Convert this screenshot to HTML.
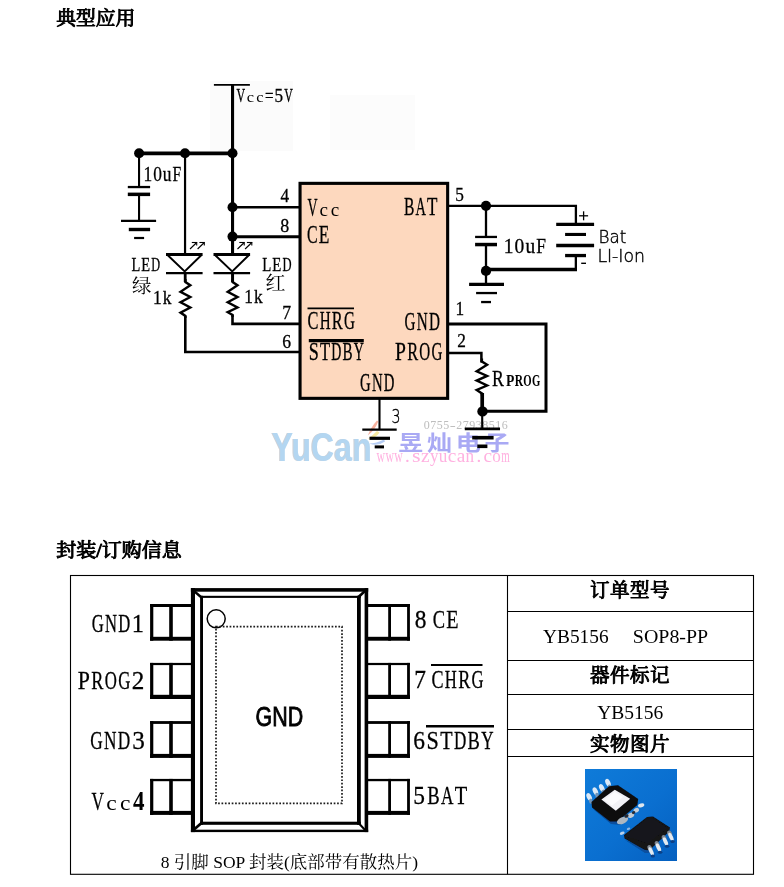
<!DOCTYPE html>
<html lang="zh-CN">
<head>
<meta charset="utf-8">
<title>YB5156 典型应用 / 封装订购信息</title>
<style>
html,body{margin:0;padding:0;background:#fff;}
body{width:784px;height:887px;overflow:hidden;position:relative;font-family:"Liberation Serif","Noto Serif CJK SC",serif;}
svg{position:absolute;left:0;top:0;display:block;opacity:0.999;}
text{white-space:pre;}
</style>
</head>
<body>
<svg width="784" height="887" viewBox="0 0 784 887">
<rect x="210" y="81" width="83" height="70" fill="#fbfbfb"/>
<rect x="330" y="95" width="85" height="55" fill="#fcfcfc"/>
<text x="56.3" y="25" font-family='"Liberation Serif", "Noto Serif CJK SC", serif' font-size="19.5" font-weight="normal" fill="#000" textLength="79.0" lengthAdjust="spacingAndGlyphs" stroke="#000" stroke-width="1.0" stroke-linejoin="round">典型应用</text>
<text x="56.2" y="556.5" font-family='"Liberation Serif", "Noto Serif CJK SC", serif' font-size="19.5" font-weight="normal" fill="#000" textLength="125.6" lengthAdjust="spacingAndGlyphs" stroke="#000" stroke-width="1.0" stroke-linejoin="round">封装/订购信息</text>
<g>
<text x="270.8" y="460.5" font-family='"Liberation Sans", "Noto Sans CJK SC", sans-serif' font-size="40" font-weight="bold" fill="#cdd0d6" textLength="100.0" lengthAdjust="spacingAndGlyphs">YuCan</text>
<text x="271.8" y="460.7" font-family='"Liberation Sans", "Noto Sans CJK SC", sans-serif' font-size="40" font-weight="bold" fill="#b3d6f1" textLength="100.0" lengthAdjust="spacingAndGlyphs">YuCan</text>
<text y="450" aria-label="昱灿电子" font-family='"Noto Sans CJK SC", sans-serif' font-size="21" font-weight="bold" fill="#a9a9f4"><tspan x="398.37" textLength="25.01" lengthAdjust="spacingAndGlyphs">昱</tspan><tspan x="427.12" textLength="25.01" lengthAdjust="spacingAndGlyphs">灿</tspan><tspan x="455.87" textLength="25.01" lengthAdjust="spacingAndGlyphs">电</tspan><tspan x="484.62" textLength="25.01" lengthAdjust="spacingAndGlyphs">子</tspan></text>
<text y="462.3" aria-label="www.szyucan.com" font-family='"Liberation Serif", "Noto Serif CJK SC", serif' font-size="19" font-weight="normal" fill="#ffb1e0"><tspan x="376.48" textLength="8.56" lengthAdjust="spacingAndGlyphs">w</tspan><tspan x="385.39" textLength="8.56" lengthAdjust="spacingAndGlyphs">w</tspan><tspan x="394.3" textLength="8.56" lengthAdjust="spacingAndGlyphs">w</tspan><tspan x="405.12" textLength="4.75" lengthAdjust="spacingAndGlyphs">.</tspan><tspan x="412.13" textLength="8.56" lengthAdjust="spacingAndGlyphs">s</tspan><tspan x="421.04" textLength="8.56" lengthAdjust="spacingAndGlyphs">z</tspan><tspan x="429.96" textLength="8.56" lengthAdjust="spacingAndGlyphs">y</tspan><tspan x="438.87" textLength="8.56" lengthAdjust="spacingAndGlyphs">u</tspan><tspan x="447.78" textLength="8.56" lengthAdjust="spacingAndGlyphs">c</tspan><tspan x="456.7" textLength="8.56" lengthAdjust="spacingAndGlyphs">a</tspan><tspan x="465.61" textLength="8.56" lengthAdjust="spacingAndGlyphs">n</tspan><tspan x="476.43" textLength="4.75" lengthAdjust="spacingAndGlyphs">.</tspan><tspan x="483.44" textLength="8.56" lengthAdjust="spacingAndGlyphs">c</tspan><tspan x="492.35" textLength="8.56" lengthAdjust="spacingAndGlyphs">o</tspan><tspan x="501.26" textLength="8.56" lengthAdjust="spacingAndGlyphs">m</tspan></text>
<text y="428.7" aria-label="0755-27938516" font-family='"Liberation Serif", "Noto Serif CJK SC", serif' font-size="12.3" font-weight="normal" fill="#bdbdbd"><tspan x="423.66" textLength="5.99" lengthAdjust="spacingAndGlyphs">0</tspan><tspan x="430.17" textLength="5.99" lengthAdjust="spacingAndGlyphs">7</tspan><tspan x="436.68" textLength="5.99" lengthAdjust="spacingAndGlyphs">5</tspan><tspan x="443.18" textLength="5.99" lengthAdjust="spacingAndGlyphs">5</tspan><tspan x="449.69" textLength="5.99" lengthAdjust="spacingAndGlyphs">-</tspan><tspan x="456.2" textLength="5.99" lengthAdjust="spacingAndGlyphs">2</tspan><tspan x="462.71" textLength="5.99" lengthAdjust="spacingAndGlyphs">7</tspan><tspan x="469.21" textLength="5.99" lengthAdjust="spacingAndGlyphs">9</tspan><tspan x="475.72" textLength="5.99" lengthAdjust="spacingAndGlyphs">3</tspan><tspan x="482.23" textLength="5.99" lengthAdjust="spacingAndGlyphs">8</tspan><tspan x="488.74" textLength="5.99" lengthAdjust="spacingAndGlyphs">5</tspan><tspan x="495.24" textLength="5.99" lengthAdjust="spacingAndGlyphs">1</tspan><tspan x="501.75" textLength="5.99" lengthAdjust="spacingAndGlyphs">6</tspan></text>
<path d="M377 420.5 Q371 427 367.8 435.5 Q375.5 429.5 378.2 421.5 Z" fill="#f7b29e"/>
<path d="M377 431 Q372.5 435.5 368 438.8 Q376 438.5 379.5 432.5 Z" fill="#f8e9a0"/>
<path d="M384 439.5 Q376 443.5 369.5 443.5 Q377 447 385 441.5 Z" fill="#b4ccf4"/>
</g>
<rect x="300.05" y="183.35" width="147.6" height="215" fill="#fdd8be" stroke="#000" stroke-width="3.1"/>
<line x1="213.9" y1="84.9" x2="249.9" y2="84.9" stroke="#000" stroke-width="1.9" stroke-linecap="butt"/>
<line x1="232.55" y1="84" x2="232.55" y2="255" stroke="#000" stroke-width="3.1" stroke-linecap="butt"/>
<line x1="139" y1="153.4" x2="232.5" y2="153.4" stroke="#000" stroke-width="3.7" stroke-linecap="butt"/>
<circle cx="139.1" cy="153.3" r="5.0" fill="#000"/>
<circle cx="185" cy="153.3" r="5.0" fill="#000"/>
<circle cx="232.5" cy="153.3" r="5.0" fill="#000"/>
<circle cx="232.5" cy="207.2" r="5.0" fill="#000"/>
<circle cx="232.5" cy="236.6" r="5.0" fill="#000"/>
<line x1="139.05" y1="153" x2="139.05" y2="187" stroke="#000" stroke-width="2.1" stroke-linecap="butt"/>
<line x1="127.8" y1="187.05" x2="150.1" y2="187.05" stroke="#000" stroke-width="2.3" stroke-linecap="butt"/>
<line x1="127.8" y1="194.35" x2="150.1" y2="194.35" stroke="#000" stroke-width="3.5" stroke-linecap="butt"/>
<line x1="139.05" y1="194" x2="139.05" y2="221" stroke="#000" stroke-width="2.1" stroke-linecap="butt"/>
<line x1="121" y1="220.85" x2="156.1" y2="220.85" stroke="#000" stroke-width="2.3" stroke-linecap="butt"/>
<line x1="128.8" y1="229.5" x2="150.1" y2="229.5" stroke="#000" stroke-width="3.4" stroke-linecap="butt"/>
<line x1="134.1" y1="238" x2="144.1" y2="238" stroke="#000" stroke-width="2.2" stroke-linecap="butt"/>
<line x1="185.05" y1="153" x2="185.05" y2="254" stroke="#000" stroke-width="2.2" stroke-linecap="butt"/>
<line x1="232.5" y1="207.2" x2="299" y2="207.2" stroke="#000" stroke-width="2.6" stroke-linecap="butt"/>
<line x1="232.5" y1="236.75" x2="299" y2="236.75" stroke="#000" stroke-width="2.9" stroke-linecap="butt"/>
<line x1="166" y1="254.4" x2="202.6" y2="254.4" stroke="#000" stroke-width="3.0" stroke-linecap="butt"/>
<polyline points="167.5,255 184.7,271.5 201.5,255" fill="none" stroke="#000" stroke-width="1.9" stroke-linejoin="miter"/>
<line x1="166" y1="273.1" x2="202.6" y2="273.1" stroke="#000" stroke-width="2.2" stroke-linecap="butt"/>
<line x1="190" y1="249" x2="196.2" y2="243" stroke="#000" stroke-width="1.1" stroke-linecap="butt"/>
<line x1="191.8" y1="242.5" x2="197.2" y2="242.5" stroke="#000" stroke-width="1.1" stroke-linecap="butt"/>
<line x1="196.7" y1="242.3" x2="196.7" y2="245.6" stroke="#000" stroke-width="1.1" stroke-linecap="butt"/>
<line x1="197.6" y1="249" x2="203.79999999999998" y2="243" stroke="#000" stroke-width="1.1" stroke-linecap="butt"/>
<line x1="199.4" y1="242.5" x2="204.79999999999998" y2="242.5" stroke="#000" stroke-width="1.1" stroke-linecap="butt"/>
<line x1="204.29999999999998" y1="242.3" x2="204.29999999999998" y2="245.6" stroke="#000" stroke-width="1.1" stroke-linecap="butt"/>
<line x1="213.5" y1="254.4" x2="250.1" y2="254.4" stroke="#000" stroke-width="3.0" stroke-linecap="butt"/>
<polyline points="215.0,255 232.2,271.5 249.0,255" fill="none" stroke="#000" stroke-width="1.9" stroke-linejoin="miter"/>
<line x1="213.5" y1="273.1" x2="250.1" y2="273.1" stroke="#000" stroke-width="2.2" stroke-linecap="butt"/>
<line x1="237.5" y1="249" x2="243.7" y2="243" stroke="#000" stroke-width="1.1" stroke-linecap="butt"/>
<line x1="239.3" y1="242.5" x2="244.7" y2="242.5" stroke="#000" stroke-width="1.1" stroke-linecap="butt"/>
<line x1="244.2" y1="242.3" x2="244.2" y2="245.6" stroke="#000" stroke-width="1.1" stroke-linecap="butt"/>
<line x1="245.1" y1="249" x2="251.29999999999998" y2="243" stroke="#000" stroke-width="1.1" stroke-linecap="butt"/>
<line x1="246.9" y1="242.5" x2="252.29999999999998" y2="242.5" stroke="#000" stroke-width="1.1" stroke-linecap="butt"/>
<line x1="251.79999999999998" y1="242.3" x2="251.79999999999998" y2="245.6" stroke="#000" stroke-width="1.1" stroke-linecap="butt"/>
<line x1="185.2" y1="272" x2="185.2" y2="282" stroke="#000" stroke-width="2.8" stroke-linecap="butt"/>
<polyline points="185.4,279 185.4,282 190.3,285.2 180.5,291.8 190.3,297 180.5,302.2 190.3,307.5 180.5,312.6 185.4,316 185.4,318" fill="none" stroke="#000" stroke-width="2.4" stroke-linejoin="miter"/>
<polyline points="185.3,316 185.3,352 299,352" fill="none" stroke="#000" stroke-width="2.6" stroke-linejoin="miter"/>
<line x1="232.55" y1="272" x2="232.55" y2="282" stroke="#000" stroke-width="3.0" stroke-linecap="butt"/>
<polyline points="232.6,279 232.6,282 237.5,285.2 227.7,291.8 237.5,297 227.7,302.2 237.5,307.5 227.7,312.2 232.6,315 232.6,317" fill="none" stroke="#000" stroke-width="2.4" stroke-linejoin="miter"/>
<polyline points="232.5,315 232.5,323.9 299,323.9" fill="none" stroke="#000" stroke-width="2.6" stroke-linejoin="miter"/>
<polyline points="448.5,205.9 575.9,205.9 575.9,224" fill="none" stroke="#000" stroke-width="2.3" stroke-linejoin="miter"/>
<circle cx="486" cy="205.8" r="5.1" fill="#000"/>
<circle cx="486" cy="270.9" r="5.1" fill="#000"/>
<line x1="486" y1="206" x2="486" y2="237" stroke="#000" stroke-width="2.3" stroke-linecap="butt"/>
<line x1="475.1" y1="236.95" x2="497" y2="236.95" stroke="#000" stroke-width="2.3" stroke-linecap="butt"/>
<line x1="475.1" y1="244.55" x2="497" y2="244.55" stroke="#000" stroke-width="3.5" stroke-linecap="butt"/>
<line x1="486" y1="245" x2="486" y2="284" stroke="#000" stroke-width="2.3" stroke-linecap="butt"/>
<line x1="486" y1="269.5" x2="577" y2="269.5" stroke="#000" stroke-width="3.5" stroke-linecap="butt"/>
<line x1="575.85" y1="256" x2="575.85" y2="270" stroke="#000" stroke-width="2.3" stroke-linecap="butt"/>
<line x1="556.2" y1="224.45" x2="594.1" y2="224.45" stroke="#000" stroke-width="3.3" stroke-linecap="butt"/>
<line x1="565.1" y1="234.45" x2="586" y2="234.45" stroke="#000" stroke-width="3.1" stroke-linecap="butt"/>
<line x1="556.2" y1="245.45" x2="594.1" y2="245.45" stroke="#000" stroke-width="3.5" stroke-linecap="butt"/>
<line x1="565.1" y1="255.55" x2="586" y2="255.55" stroke="#000" stroke-width="3.3" stroke-linecap="butt"/>
<line x1="469.1" y1="284.4" x2="504" y2="284.4" stroke="#000" stroke-width="3.2" stroke-linecap="butt"/>
<line x1="476.1" y1="293.05" x2="497" y2="293.05" stroke="#000" stroke-width="2.3" stroke-linecap="butt"/>
<line x1="481.1" y1="302.05" x2="491" y2="302.05" stroke="#000" stroke-width="2.3" stroke-linecap="butt"/>
<line x1="579.1" y1="215.8" x2="588.1" y2="215.8" stroke="#000" stroke-width="1.3" stroke-linecap="butt"/>
<line x1="583.6" y1="211.3" x2="583.6" y2="220.3" stroke="#000" stroke-width="1.3" stroke-linecap="butt"/>
<line x1="581.2" y1="263.3" x2="586" y2="263.3" stroke="#000" stroke-width="1.4" stroke-linecap="butt"/>
<polyline points="448.5,324.1 546,324.1 546,411.3 482,411.3" fill="none" stroke="#000" stroke-width="3.0" stroke-linejoin="miter"/>
<polyline points="448.5,352.9 481.4,352.9 481.4,362.5" fill="none" stroke="#000" stroke-width="2.5" stroke-linejoin="miter"/>
<polyline points="481.9,358.5 481.9,361.5 487.1,364.8 476.7,371.3 487.1,375.9 476.7,380.6 487.1,385.5 476.7,390 481.9,393.4 481.9,395.4" fill="none" stroke="#000" stroke-width="2.4" stroke-linejoin="miter"/>
<line x1="482.2" y1="393" x2="482.2" y2="412" stroke="#000" stroke-width="3.7" stroke-linecap="butt"/>
<line x1="482.2" y1="412" x2="482.2" y2="428.5" stroke="#000" stroke-width="2.1" stroke-linecap="butt"/>
<circle cx="482.5" cy="411.4" r="5.2" fill="#000"/>
<line x1="464.8" y1="428.8" x2="500" y2="428.8" stroke="#000" stroke-width="2.8" stroke-linecap="butt"/>
<line x1="472.2" y1="437.7" x2="493.6" y2="437.7" stroke="#000" stroke-width="3.6" stroke-linecap="butt"/>
<line x1="477.3" y1="446.3" x2="487.4" y2="446.3" stroke="#000" stroke-width="3.6" stroke-linecap="butt"/>
<line x1="379.5" y1="399" x2="379.5" y2="430" stroke="#000" stroke-width="2.1" stroke-linecap="butt"/>
<line x1="362.3" y1="429.7" x2="396.7" y2="429.7" stroke="#000" stroke-width="2.3" stroke-linecap="butt"/>
<line x1="369.5" y1="438.3" x2="390" y2="438.3" stroke="#000" stroke-width="3.2" stroke-linecap="butt"/>
<line x1="374.7" y1="446.9" x2="384" y2="446.9" stroke="#000" stroke-width="3.0" stroke-linecap="butt"/>
<text y="101.7" aria-label="Vcc=5V" font-family='"Liberation Serif", "Noto Serif CJK SC", serif' font-size="19.4" font-weight="normal" fill="#000" stroke="#000" stroke-width="0.3"><tspan x="236.48" textLength="8.58" lengthAdjust="spacingAndGlyphs">V</tspan><tspan x="246.68" font-size="15.13" stroke="none" textLength="7.25" lengthAdjust="spacingAndGlyphs">c</tspan><tspan x="256.21" font-size="15.13" stroke="none" textLength="7.25" lengthAdjust="spacingAndGlyphs">c</tspan><tspan x="265.08" textLength="8.58" lengthAdjust="spacingAndGlyphs">=</tspan><tspan x="274.61" textLength="8.58" lengthAdjust="spacingAndGlyphs">5</tspan><tspan x="284.14" textLength="8.58" lengthAdjust="spacingAndGlyphs">V</tspan></text>
<text y="181.2" aria-label="10uF" font-family='"Liberation Serif", "Noto Serif CJK SC", serif' font-size="20.3" font-weight="normal" fill="#000" stroke="#000" stroke-width="0.3"><tspan x="143.48" textLength="8.68" lengthAdjust="spacingAndGlyphs">1</tspan><tspan x="153.13" textLength="8.68" lengthAdjust="spacingAndGlyphs">0</tspan><tspan x="162.78" textLength="8.68" lengthAdjust="spacingAndGlyphs">u</tspan><tspan x="172.43" textLength="8.68" lengthAdjust="spacingAndGlyphs">F</tspan></text>
<text y="202.4" aria-label="4" font-family='"Liberation Serif", "Noto Serif CJK SC", serif' font-size="19.6" font-weight="normal" fill="#000" stroke="#000" stroke-width="0.3"><tspan x="280.38" textLength="8.64" lengthAdjust="spacingAndGlyphs">4</tspan></text>
<text y="231.8" aria-label="8" font-family='"Liberation Serif", "Noto Serif CJK SC", serif' font-size="19.6" font-weight="normal" fill="#000" stroke="#000" stroke-width="0.3"><tspan x="280.2" textLength="9.0" lengthAdjust="spacingAndGlyphs">8</tspan></text>
<text y="270.6" aria-label="LED" font-family='"Liberation Serif", "Noto Serif CJK SC", serif' font-size="19.8" font-weight="normal" fill="#000" stroke="#000" stroke-width="0.3"><tspan x="131.49" textLength="8.85" lengthAdjust="spacingAndGlyphs">L</tspan><tspan x="141.33" textLength="8.85" lengthAdjust="spacingAndGlyphs">E</tspan><tspan x="151.16" textLength="8.85" lengthAdjust="spacingAndGlyphs">D</tspan></text>
<text x="132" y="293" font-family='"Noto Serif CJK SC", serif' font-size="19.5" font-weight="normal" fill="#000" textLength="19.5" lengthAdjust="spacingAndGlyphs">绿</text>
<text y="303.8" aria-label="1k" font-family='"Liberation Serif", "Noto Serif CJK SC", serif' font-size="19.6" font-weight="normal" fill="#000" stroke="#000" stroke-width="0.3"><tspan x="152.98" textLength="8.69" lengthAdjust="spacingAndGlyphs">1</tspan><tspan x="162.63" textLength="8.69" lengthAdjust="spacingAndGlyphs">k</tspan></text>
<text y="302.8" aria-label="1k" font-family='"Liberation Serif", "Noto Serif CJK SC", serif' font-size="19.6" font-weight="normal" fill="#000" stroke="#000" stroke-width="0.3"><tspan x="244.28" textLength="8.64" lengthAdjust="spacingAndGlyphs">1</tspan><tspan x="253.88" textLength="8.64" lengthAdjust="spacingAndGlyphs">k</tspan></text>
<text y="270.6" aria-label="LED" font-family='"Liberation Serif", "Noto Serif CJK SC", serif' font-size="19.8" font-weight="normal" fill="#000" stroke="#000" stroke-width="0.3"><tspan x="262.3" textLength="9.06" lengthAdjust="spacingAndGlyphs">L</tspan><tspan x="272.37" textLength="9.06" lengthAdjust="spacingAndGlyphs">E</tspan><tspan x="282.44" textLength="9.06" lengthAdjust="spacingAndGlyphs">D</tspan></text>
<text x="265.5" y="290.3" font-family='"Noto Serif CJK SC", serif' font-size="19.5" font-weight="normal" fill="#000" textLength="20.0" lengthAdjust="spacingAndGlyphs">红</text>
<text y="318.8" aria-label="7" font-family='"Liberation Serif", "Noto Serif CJK SC", serif' font-size="19.6" font-weight="normal" fill="#000" stroke="#000" stroke-width="0.3"><tspan x="282.19" textLength="8.82" lengthAdjust="spacingAndGlyphs">7</tspan></text>
<text y="347.5" aria-label="6" font-family='"Liberation Serif", "Noto Serif CJK SC", serif' font-size="19.6" font-weight="normal" fill="#000" stroke="#000" stroke-width="0.3"><tspan x="282.19" textLength="8.82" lengthAdjust="spacingAndGlyphs">6</tspan></text>
<text y="216" aria-label="Vcc" font-family='"Liberation Serif", "Noto Serif CJK SC", serif' font-size="24.5" font-weight="normal" fill="#000" stroke="#000" stroke-width="0.3"><tspan x="307.56" textLength="10.05" lengthAdjust="spacingAndGlyphs">V</tspan><tspan x="319.51" font-size="19.11" stroke="none" textLength="8.49" lengthAdjust="spacingAndGlyphs">c</tspan><tspan x="330.67" font-size="19.11" stroke="none" textLength="8.49" lengthAdjust="spacingAndGlyphs">c</tspan></text>
<text y="243" aria-label="CE" font-family='"Liberation Serif", "Noto Serif CJK SC", serif' font-size="24.5" font-weight="normal" fill="#000" stroke="#000" stroke-width="0.3"><tspan x="307.09" textLength="10.58" lengthAdjust="spacingAndGlyphs">C</tspan><tspan x="318.84" textLength="10.58" lengthAdjust="spacingAndGlyphs">E</tspan></text>
<text y="328.8" aria-label="CHRG" font-family='"Liberation Serif", "Noto Serif CJK SC", serif' font-size="24.5" font-weight="normal" fill="#000" stroke="#000" stroke-width="0.3"><tspan x="307.61" textLength="10.91" lengthAdjust="spacingAndGlyphs">C</tspan><tspan x="319.73" textLength="10.91" lengthAdjust="spacingAndGlyphs">H</tspan><tspan x="331.86" textLength="10.91" lengthAdjust="spacingAndGlyphs">R</tspan><tspan x="343.98" textLength="10.91" lengthAdjust="spacingAndGlyphs">G</tspan></text>
<line x1="307.5" y1="308.3" x2="354" y2="308.3" stroke="#000" stroke-width="1.8" stroke-linecap="butt"/>
<text y="359.5" aria-label="STDBY" font-family='"Liberation Serif", "Noto Serif CJK SC", serif' font-size="24.5" font-weight="normal" fill="#000" stroke="#000" stroke-width="0.3"><tspan x="308.86" textLength="10.08" lengthAdjust="spacingAndGlyphs">S</tspan><tspan x="320.06" textLength="10.08" lengthAdjust="spacingAndGlyphs">T</tspan><tspan x="331.26" textLength="10.08" lengthAdjust="spacingAndGlyphs">D</tspan><tspan x="342.46" textLength="10.08" lengthAdjust="spacingAndGlyphs">B</tspan><tspan x="353.66" textLength="10.08" lengthAdjust="spacingAndGlyphs">Y</tspan></text>
<line x1="308.8" y1="340.6" x2="363.8" y2="340.6" stroke="#000" stroke-width="3.2" stroke-linecap="butt"/>
<text y="215" aria-label="BAT" font-family='"Liberation Serif", "Noto Serif CJK SC", serif' font-size="24.5" font-weight="normal" fill="#000" stroke="#000" stroke-width="0.3"><tspan x="403.88" textLength="10.41" lengthAdjust="spacingAndGlyphs">B</tspan><tspan x="415.44" textLength="10.41" lengthAdjust="spacingAndGlyphs">A</tspan><tspan x="427.01" textLength="10.41" lengthAdjust="spacingAndGlyphs">T</tspan></text>
<text y="329.5" aria-label="GND" font-family='"Liberation Serif", "Noto Serif CJK SC", serif' font-size="24.5" font-weight="normal" fill="#000" stroke="#000" stroke-width="0.3"><tspan x="404.61" textLength="10.95" lengthAdjust="spacingAndGlyphs">G</tspan><tspan x="416.78" textLength="10.95" lengthAdjust="spacingAndGlyphs">N</tspan><tspan x="428.94" textLength="10.95" lengthAdjust="spacingAndGlyphs">D</tspan></text>
<text y="359.5" aria-label="PROG" font-family='"Liberation Serif", "Noto Serif CJK SC", serif' font-size="24.5" font-weight="normal" fill="#000" stroke="#000" stroke-width="0.3"><tspan x="395.11" textLength="10.91" lengthAdjust="spacingAndGlyphs">P</tspan><tspan x="407.23" textLength="10.91" lengthAdjust="spacingAndGlyphs">R</tspan><tspan x="419.36" textLength="10.91" lengthAdjust="spacingAndGlyphs">O</tspan><tspan x="431.48" textLength="10.91" lengthAdjust="spacingAndGlyphs">G</tspan></text>
<text y="390.5" aria-label="GND" font-family='"Liberation Serif", "Noto Serif CJK SC", serif' font-size="24.5" font-weight="normal" fill="#000" stroke="#000" stroke-width="0.3"><tspan x="360.09" textLength="10.65" lengthAdjust="spacingAndGlyphs">G</tspan><tspan x="371.92" textLength="10.65" lengthAdjust="spacingAndGlyphs">N</tspan><tspan x="383.76" textLength="10.65" lengthAdjust="spacingAndGlyphs">D</tspan></text>
<text y="200.6" aria-label="5" font-family='"Liberation Serif", "Noto Serif CJK SC", serif' font-size="19.6" font-weight="normal" fill="#000" stroke="#000" stroke-width="0.3"><tspan x="455.18" textLength="8.64" lengthAdjust="spacingAndGlyphs">5</tspan></text>
<text y="315" aria-label="1" font-family='"Liberation Serif", "Noto Serif CJK SC", serif' font-size="19.6" font-weight="normal" fill="#000" stroke="#000" stroke-width="0.3"><tspan x="455.48" textLength="8.64" lengthAdjust="spacingAndGlyphs">1</tspan></text>
<text y="346.8" aria-label="2" font-family='"Liberation Serif", "Noto Serif CJK SC", serif' font-size="19.8" font-weight="normal" fill="#000" stroke="#000" stroke-width="0.3"><tspan x="457.28" textLength="8.64" lengthAdjust="spacingAndGlyphs">2</tspan></text>
<text x="391.4" y="422.7" font-family='"DejaVu Sans", sans-serif' font-size="18.8" font-weight="200" fill="#000" textLength="9.0" lengthAdjust="spacingAndGlyphs" stroke="#000" stroke-width="0.4">3</text>
<text y="253" aria-label="10uF" font-family='"Liberation Serif", "Noto Serif CJK SC", serif' font-size="20.7" font-weight="normal" fill="#000" stroke="#000" stroke-width="0.3"><tspan x="503.74" textLength="9.74" lengthAdjust="spacingAndGlyphs">1</tspan><tspan x="514.57" textLength="9.74" lengthAdjust="spacingAndGlyphs">0</tspan><tspan x="525.39" textLength="9.74" lengthAdjust="spacingAndGlyphs">u</tspan><tspan x="536.22" textLength="9.74" lengthAdjust="spacingAndGlyphs">F</tspan></text>
<text x="598.6" y="243.4" font-family='"DejaVu Sans", sans-serif' font-size="16.8" font-weight="200" fill="#000" textLength="27.8" lengthAdjust="spacingAndGlyphs" stroke="#000" stroke-width="0.4">Bat</text>
<text x="597.4" y="262.3" font-family='"DejaVu Sans", sans-serif' font-size="17.2" font-weight="200" fill="#000" textLength="47.6" lengthAdjust="spacingAndGlyphs" stroke="#000" stroke-width="0.4">LI-Ion</text>
<text y="386" aria-label="R" font-family='"Liberation Serif", "Noto Serif CJK SC", serif' font-size="23.4" font-weight="normal" fill="#000" stroke="#000" stroke-width="0.3"><tspan x="491.96" textLength="11.88" lengthAdjust="spacingAndGlyphs">R</tspan></text>
<text y="386" aria-label="PROG" font-family='"Liberation Serif", "Noto Serif CJK SC", serif' font-size="16" font-weight="bold" fill="#000"><tspan x="505.97" textLength="8.33" lengthAdjust="spacingAndGlyphs">P</tspan><tspan x="514.65" textLength="8.33" lengthAdjust="spacingAndGlyphs">R</tspan><tspan x="523.32" textLength="8.33" lengthAdjust="spacingAndGlyphs">O</tspan><tspan x="532.0" textLength="8.33" lengthAdjust="spacingAndGlyphs">G</tspan></text>
<rect x="70.5" y="575.5" width="683" height="298.8" fill="none" stroke="#000" stroke-width="1.1"/>
<line x1="507.5" y1="575.5" x2="507.5" y2="874.3" stroke="#000" stroke-width="1.1" stroke-linecap="butt"/>
<line x1="507.5" y1="611.5" x2="753.5" y2="611.5" stroke="#000" stroke-width="1.1" stroke-linecap="butt"/>
<line x1="507.5" y1="660.5" x2="753.5" y2="660.5" stroke="#000" stroke-width="1.1" stroke-linecap="butt"/>
<line x1="507.5" y1="694.5" x2="753.5" y2="694.5" stroke="#000" stroke-width="1.1" stroke-linecap="butt"/>
<line x1="507.5" y1="729.5" x2="753.5" y2="729.5" stroke="#000" stroke-width="1.1" stroke-linecap="butt"/>
<line x1="507.5" y1="756.5" x2="753.5" y2="756.5" stroke="#000" stroke-width="1.1" stroke-linecap="butt"/>
<rect x="190.9" y="588.1" width="4.1" height="244.0" fill="#000"/>
<rect x="190.9" y="588.1" width="177.3" height="3.6" fill="#000"/>
<rect x="364.6" y="588.1" width="3.6" height="244.0" fill="#000"/>
<rect x="190.9" y="829.7" width="177.3" height="2.4" fill="#000"/>
<rect x="200.1" y="595.8" width="2.9" height="229.0" fill="#000"/>
<rect x="200.1" y="595.8" width="160.7" height="2.1" fill="#000"/>
<rect x="357" y="595.8" width="3.8" height="229.0" fill="#000"/>
<rect x="200.1" y="821.7" width="160.7" height="3.1" fill="#000"/>
<line x1="194" y1="591" x2="201.5" y2="597.5" stroke="#000" stroke-width="2.4" stroke-linecap="butt"/>
<line x1="365.5" y1="590.5" x2="358.5" y2="597" stroke="#000" stroke-width="2.6" stroke-linecap="butt"/>
<line x1="194" y1="829.5" x2="201.5" y2="823" stroke="#000" stroke-width="2.8" stroke-linecap="butt"/>
<line x1="365.5" y1="830.5" x2="359" y2="823.5" stroke="#000" stroke-width="2.0" stroke-linecap="butt"/>
<rect x="150.1" y="604" width="41.9" height="3.0" fill="#000"/>
<rect x="150.1" y="636.8000000000001" width="41.9" height="3.9" fill="#000"/>
<rect x="150.1" y="604" width="3.2" height="36.7" fill="#000"/>
<rect x="169.2" y="604" width="3.6" height="36.7" fill="#000"/>
<rect x="367" y="604" width="42.9" height="3.0" fill="#000"/>
<rect x="367" y="636.8000000000001" width="42.9" height="3.9" fill="#000"/>
<rect x="407.1" y="604" width="2.8" height="36.7" fill="#000"/>
<rect x="388.2" y="604" width="2.8" height="36.7" fill="#000"/>
<rect x="150.1" y="662.9" width="41.9" height="2.2" fill="#000"/>
<rect x="150.1" y="694.8" width="41.9" height="4.2" fill="#000"/>
<rect x="150.1" y="662.9" width="3.2" height="36.1" fill="#000"/>
<rect x="169.2" y="662.9" width="3.6" height="36.1" fill="#000"/>
<rect x="367" y="662.9" width="42.9" height="2.2" fill="#000"/>
<rect x="367" y="694.8" width="42.9" height="4.2" fill="#000"/>
<rect x="407.1" y="662.9" width="2.8" height="36.1" fill="#000"/>
<rect x="388.2" y="662.9" width="2.8" height="36.1" fill="#000"/>
<rect x="150.1" y="721.1" width="41.9" height="2.8" fill="#000"/>
<rect x="150.1" y="753.9" width="41.9" height="4.0" fill="#000"/>
<rect x="150.1" y="721.1" width="3.2" height="36.8" fill="#000"/>
<rect x="169.2" y="721.1" width="3.6" height="36.8" fill="#000"/>
<rect x="367" y="721.1" width="42.9" height="2.8" fill="#000"/>
<rect x="367" y="753.9" width="42.9" height="4.0" fill="#000"/>
<rect x="407.1" y="721.1" width="2.8" height="36.8" fill="#000"/>
<rect x="388.2" y="721.1" width="2.8" height="36.8" fill="#000"/>
<rect x="150.1" y="778.9" width="41.9" height="2.3" fill="#000"/>
<rect x="150.1" y="810.9" width="41.9" height="4.0" fill="#000"/>
<rect x="150.1" y="778.9" width="3.2" height="36.0" fill="#000"/>
<rect x="169.2" y="778.9" width="3.6" height="36.0" fill="#000"/>
<rect x="367" y="778.9" width="42.9" height="2.3" fill="#000"/>
<rect x="367" y="810.9" width="42.9" height="4.0" fill="#000"/>
<rect x="407.1" y="778.9" width="2.8" height="36.0" fill="#000"/>
<rect x="388.2" y="778.9" width="2.8" height="36.0" fill="#000"/>
<circle cx="216.2" cy="618.8" r="9" fill="#fff" stroke="#000" stroke-width="1.5"/>
<rect x="216" y="626.6" width="126" height="176.8" fill="none" stroke="#1c1c1c" stroke-width="1.7" stroke-dasharray="1.7 1.7"/>
<text x="255.6" y="726.3" font-family='"Liberation Sans", "Noto Sans CJK SC", sans-serif' font-size="28" font-weight="normal" fill="#000" textLength="47.6" lengthAdjust="spacingAndGlyphs" stroke="#000" stroke-width="0.9">GND</text>
<text y="632" aria-label="GND" font-family='"Liberation Serif", "Noto Serif CJK SC", serif' font-size="26" font-weight="normal" fill="#000" stroke="#000" stroke-width="0.3"><tspan x="91.67" textLength="12.0" lengthAdjust="spacingAndGlyphs">G</tspan><tspan x="105.0" textLength="12.0" lengthAdjust="spacingAndGlyphs">N</tspan><tspan x="118.33" textLength="12.0" lengthAdjust="spacingAndGlyphs">D</tspan></text>
<text y="632" aria-label="1" font-family='"Liberation Serif", "Noto Serif CJK SC", serif' font-size="26" font-weight="normal" fill="#000" stroke="#000" stroke-width="0.3"><tspan x="131.68" textLength="12.15" lengthAdjust="spacingAndGlyphs">1</tspan></text>
<text y="689.3" aria-label="PROG" font-family='"Liberation Serif", "Noto Serif CJK SC", serif' font-size="26" font-weight="normal" fill="#000" stroke="#000" stroke-width="0.3"><tspan x="77.67" textLength="12.15" lengthAdjust="spacingAndGlyphs">P</tspan><tspan x="91.17" textLength="12.15" lengthAdjust="spacingAndGlyphs">R</tspan><tspan x="104.67" textLength="12.15" lengthAdjust="spacingAndGlyphs">O</tspan><tspan x="118.17" textLength="12.15" lengthAdjust="spacingAndGlyphs">G</tspan></text>
<text y="689.3" aria-label="2" font-family='"Liberation Serif", "Noto Serif CJK SC", serif' font-size="26" font-weight="normal" fill="#000" stroke="#000" stroke-width="0.3"><tspan x="131.7" textLength="12.6" lengthAdjust="spacingAndGlyphs">2</tspan></text>
<text y="748.8" aria-label="GND" font-family='"Liberation Serif", "Noto Serif CJK SC", serif' font-size="26" font-weight="normal" fill="#000" stroke="#000" stroke-width="0.3"><tspan x="90.19" textLength="12.45" lengthAdjust="spacingAndGlyphs">G</tspan><tspan x="104.02" textLength="12.45" lengthAdjust="spacingAndGlyphs">N</tspan><tspan x="117.86" textLength="12.45" lengthAdjust="spacingAndGlyphs">D</tspan></text>
<text y="748.8" aria-label="3" font-family='"Liberation Serif", "Noto Serif CJK SC", serif' font-size="26" font-weight="normal" fill="#000" stroke="#000" stroke-width="0.3"><tspan x="132.2" textLength="12.6" lengthAdjust="spacingAndGlyphs">3</tspan></text>
<text y="810" aria-label="Vcc" font-family='"Liberation Serif", "Noto Serif CJK SC", serif' font-size="26" font-weight="normal" fill="#000" stroke="#000" stroke-width="0.3"><tspan x="91.49" textLength="12.36" lengthAdjust="spacingAndGlyphs">V</tspan><tspan x="106.18" font-size="20.28" stroke="none" textLength="10.44" lengthAdjust="spacingAndGlyphs">c</tspan><tspan x="119.91" font-size="20.28" stroke="none" textLength="10.44" lengthAdjust="spacingAndGlyphs">c</tspan></text>
<text x="133" y="810" font-family='"Liberation Serif", "Noto Serif CJK SC", serif' font-size="27" font-weight="bold" fill="#000" textLength="11.5" lengthAdjust="spacingAndGlyphs">4</text>
<text y="628" aria-label="8" font-family='"Liberation Serif", "Noto Serif CJK SC", serif' font-size="26" font-weight="normal" fill="#000" stroke="#000" stroke-width="0.3"><tspan x="414.65" textLength="11.7" lengthAdjust="spacingAndGlyphs">8</tspan></text>
<text y="628" aria-label="CE" font-family='"Liberation Serif", "Noto Serif CJK SC", serif' font-size="26" font-weight="normal" fill="#000" stroke="#000" stroke-width="0.3"><tspan x="432.68" textLength="12.29" lengthAdjust="spacingAndGlyphs">C</tspan><tspan x="446.33" textLength="12.29" lengthAdjust="spacingAndGlyphs">E</tspan></text>
<text y="687.5" aria-label="7" font-family='"Liberation Serif", "Noto Serif CJK SC", serif' font-size="26" font-weight="normal" fill="#000" stroke="#000" stroke-width="0.3"><tspan x="414.15" textLength="11.7" lengthAdjust="spacingAndGlyphs">7</tspan></text>
<text y="687.5" aria-label="CHRG" font-family='"Liberation Serif", "Noto Serif CJK SC", serif' font-size="26" font-weight="normal" fill="#000" stroke="#000" stroke-width="0.3"><tspan x="431.47" textLength="12.04" lengthAdjust="spacingAndGlyphs">C</tspan><tspan x="444.84" textLength="12.04" lengthAdjust="spacingAndGlyphs">H</tspan><tspan x="458.22" textLength="12.04" lengthAdjust="spacingAndGlyphs">R</tspan><tspan x="471.59" textLength="12.04" lengthAdjust="spacingAndGlyphs">G</tspan></text>
<line x1="431" y1="665" x2="482.5" y2="665" stroke="#000" stroke-width="2" stroke-linecap="butt"/>
<text y="748.8" aria-label="6" font-family='"Liberation Serif", "Noto Serif CJK SC", serif' font-size="26" font-weight="normal" fill="#000" stroke="#000" stroke-width="0.3"><tspan x="413.15" textLength="11.7" lengthAdjust="spacingAndGlyphs">6</tspan></text>
<text y="748.8" aria-label="STDBY" font-family='"Liberation Serif", "Noto Serif CJK SC", serif' font-size="26" font-weight="normal" fill="#000" stroke="#000" stroke-width="0.3"><tspan x="426.49" textLength="12.33" lengthAdjust="spacingAndGlyphs">S</tspan><tspan x="440.19" textLength="12.33" lengthAdjust="spacingAndGlyphs">T</tspan><tspan x="453.88" textLength="12.33" lengthAdjust="spacingAndGlyphs">D</tspan><tspan x="467.58" textLength="12.33" lengthAdjust="spacingAndGlyphs">B</tspan><tspan x="481.29" textLength="12.33" lengthAdjust="spacingAndGlyphs">Y</tspan></text>
<line x1="426" y1="726.3" x2="494" y2="726.3" stroke="#000" stroke-width="2.6" stroke-linecap="butt"/>
<text y="803.8" aria-label="5" font-family='"Liberation Serif", "Noto Serif CJK SC", serif' font-size="26" font-weight="normal" fill="#000" stroke="#000" stroke-width="0.3"><tspan x="413.15" textLength="11.7" lengthAdjust="spacingAndGlyphs">5</tspan></text>
<text y="803.8" aria-label="BAT" font-family='"Liberation Serif", "Noto Serif CJK SC", serif' font-size="26" font-weight="normal" fill="#000" stroke="#000" stroke-width="0.3"><tspan x="427.19" textLength="12.45" lengthAdjust="spacingAndGlyphs">B</tspan><tspan x="441.02" textLength="12.45" lengthAdjust="spacingAndGlyphs">A</tspan><tspan x="454.86" textLength="12.45" lengthAdjust="spacingAndGlyphs">T</tspan></text>
<text x="160.7" y="868" font-family='"Liberation Serif", "Noto Serif CJK SC", serif' font-size="17.5" font-weight="normal" fill="#000" textLength="257.3" lengthAdjust="spacingAndGlyphs">8 引脚 SOP 封装(底部带有散热片)</text>
<text x="630" y="597" text-anchor="middle" font-family='"Liberation Serif", "Noto Serif CJK SC", serif' font-size="19.5" fill="#000" stroke="#000" stroke-width="1.0" stroke-linejoin="round" letter-spacing="0.5">订单型号</text>
<text x="543" y="643" font-family='"Liberation Serif", "Noto Serif CJK SC", serif' font-size="19.5" font-weight="normal" fill="#000" textLength="65.6" lengthAdjust="spacingAndGlyphs">YB5156</text>
<text x="632.8" y="643" font-family='"Liberation Serif", "Noto Serif CJK SC", serif' font-size="19.5" font-weight="normal" fill="#000" textLength="75.4" lengthAdjust="spacingAndGlyphs">SOP8-PP</text>
<text x="630" y="681.5" text-anchor="middle" font-family='"Liberation Serif", "Noto Serif CJK SC", serif' font-size="19.5" fill="#000" stroke="#000" stroke-width="1.0" stroke-linejoin="round" letter-spacing="0.5">器件标记</text>
<text x="630.2" y="719.3" text-anchor="middle" font-family='"Liberation Serif", "Noto Serif CJK SC", serif' font-size="19.5" fill="#000">YB5156</text>
<text x="630" y="751" text-anchor="middle" font-family='"Liberation Serif", "Noto Serif CJK SC", serif' font-size="19.5" fill="#000" stroke="#000" stroke-width="1.0" stroke-linejoin="round" letter-spacing="0.5">实物图片</text>
<defs><filter id="bl" x="-5%" y="-5%" width="110%" height="110%"><feGaussianBlur stdDeviation="0.55"/></filter><clipPath id="pc"><rect x="585" y="769" width="92" height="92"/></clipPath><linearGradient id="bg" x1="0" y1="0" x2="1" y2="1"><stop offset="0" stop-color="#0f7bd9"/><stop offset="0.55" stop-color="#0a6fd0"/><stop offset="1" stop-color="#0560c0"/></linearGradient></defs>
<rect x="585" y="769" width="92" height="92" fill="url(#bg)"/>
<g clip-path="url(#pc)"><g filter="url(#bl)" transform="translate(585,769)">
<polygon points="8,40 26,55 36,56 30,50" fill="#084f9e"/>
<polygon points="40,71 60,84 66,84 60,78" fill="#084f9e"/>
<ellipse cx="4.2" cy="28" rx="2.4" ry="4.2" fill="#dbe9f7" transform="rotate(-25 4.2 28)"/>
<ellipse cx="5.800000000000001" cy="32.2" rx="1.8" ry="2.6" fill="#6f93b8" transform="rotate(-10 5.800000000000001 32.2)"/>
<ellipse cx="10.4" cy="22.2" rx="2.4" ry="4.2" fill="#dbe9f7" transform="rotate(-25 10.4 22.2)"/>
<ellipse cx="12.0" cy="26.4" rx="1.8" ry="2.6" fill="#6f93b8" transform="rotate(-10 12.0 26.4)"/>
<ellipse cx="16.8" cy="19" rx="2.4" ry="4.2" fill="#dbe9f7" transform="rotate(-25 16.8 19)"/>
<ellipse cx="18.400000000000002" cy="23.2" rx="1.8" ry="2.6" fill="#6f93b8" transform="rotate(-10 18.400000000000002 23.2)"/>
<ellipse cx="23" cy="13.8" rx="2.4" ry="4.2" fill="#dbe9f7" transform="rotate(-25 23 13.8)"/>
<ellipse cx="24.6" cy="18.0" rx="1.8" ry="2.6" fill="#6f93b8" transform="rotate(-10 24.6 18.0)"/>
<polygon points="6.5,33 24,17.3 33,16.3 53.2,30 52.3,36 32.5,52.6 25,52.6 7,38.6" fill="#0a0a0e"/>
<ellipse cx="56.2" cy="36.3" rx="3.2" ry="1.9" fill="#dde6ee" transform="rotate(-15 56.2 36.3)"/>
<ellipse cx="51.3" cy="41.3" rx="2.8" ry="2.2" fill="#c4ced8" transform="rotate(-25 51.3 41.3)"/>
<ellipse cx="45.9" cy="46.3" rx="3.4" ry="2.5" fill="#c0c9d2" transform="rotate(-25 45.9 46.3)"/>
<ellipse cx="37.5" cy="51.5" rx="6" ry="3.2" fill="#aeb7c0" transform="rotate(-25 37.5 51.5)"/>
<ellipse cx="41.5" cy="47" rx="2.2" ry="1.6" fill="#2a2c33" transform="rotate(-25 41.5 47)"/>
<ellipse cx="48.6" cy="43.6" rx="1.8" ry="1.4" fill="#2a2c33" transform="rotate(-25 48.6 43.6)"/>
<polygon points="16.4,30.6 29.8,20.7 45.2,29.8 30.8,41.8" fill="#f1f1f5"/>
<polygon points="19,30.8 29.8,23 38,28 27,36.5" fill="#fbfbfd"/>
<ellipse cx="37.2" cy="64.2" rx="2.5" ry="1.5" fill="#b9d0ea" transform="rotate(-20 37.2 64.2)"/>
<ellipse cx="43.5" cy="59.8" rx="1.8" ry="1.1" fill="#8fb4de" transform="rotate(-20 43.5 59.8)"/>
<polygon points="39,66 62,48 68,47.4 85,58.4 84.2,62.6 64.5,81.2 60,81 39.5,69.6" fill="#121216"/>
<polygon points="41,66 62,50 67,49.6 82,59 63,74 42,67.5" fill="#19191e"/>
<ellipse cx="64.9" cy="79.3" rx="2.2" ry="3.4" fill="#7f8790" transform="rotate(-25 64.9 79.3)"/>
<ellipse cx="66.2" cy="82.5" rx="1.9" ry="4.6" fill="#e3eaf1" transform="rotate(-25 66.2 82.5)"/>
<ellipse cx="67.8" cy="87.1" rx="2.2" ry="1.5" fill="#0a3f86" transform="rotate(0 67.8 87.1)"/>
<ellipse cx="72.2" cy="75.39999999999999" rx="2.2" ry="3.4" fill="#7f8790" transform="rotate(-25 72.2 75.39999999999999)"/>
<ellipse cx="73.5" cy="78.6" rx="1.9" ry="4.6" fill="#e3eaf1" transform="rotate(-25 73.5 78.6)"/>
<ellipse cx="75.1" cy="83.19999999999999" rx="2.2" ry="1.5" fill="#0a3f86" transform="rotate(0 75.1 83.19999999999999)"/>
<ellipse cx="79.2" cy="69.39999999999999" rx="2.2" ry="3.4" fill="#7f8790" transform="rotate(-25 79.2 69.39999999999999)"/>
<ellipse cx="80.5" cy="72.6" rx="1.9" ry="4.6" fill="#e3eaf1" transform="rotate(-25 80.5 72.6)"/>
<ellipse cx="82.1" cy="77.19999999999999" rx="2.2" ry="1.5" fill="#0a3f86" transform="rotate(0 82.1 77.19999999999999)"/>
<ellipse cx="84.7" cy="64.8" rx="2.2" ry="3.4" fill="#7f8790" transform="rotate(-25 84.7 64.8)"/>
<ellipse cx="86" cy="68" rx="1.9" ry="4.6" fill="#e3eaf1" transform="rotate(-25 86 68)"/>
<ellipse cx="87.6" cy="72.6" rx="2.2" ry="1.5" fill="#0a3f86" transform="rotate(0 87.6 72.6)"/>
</g></g>
</svg>
</body>
</html>
